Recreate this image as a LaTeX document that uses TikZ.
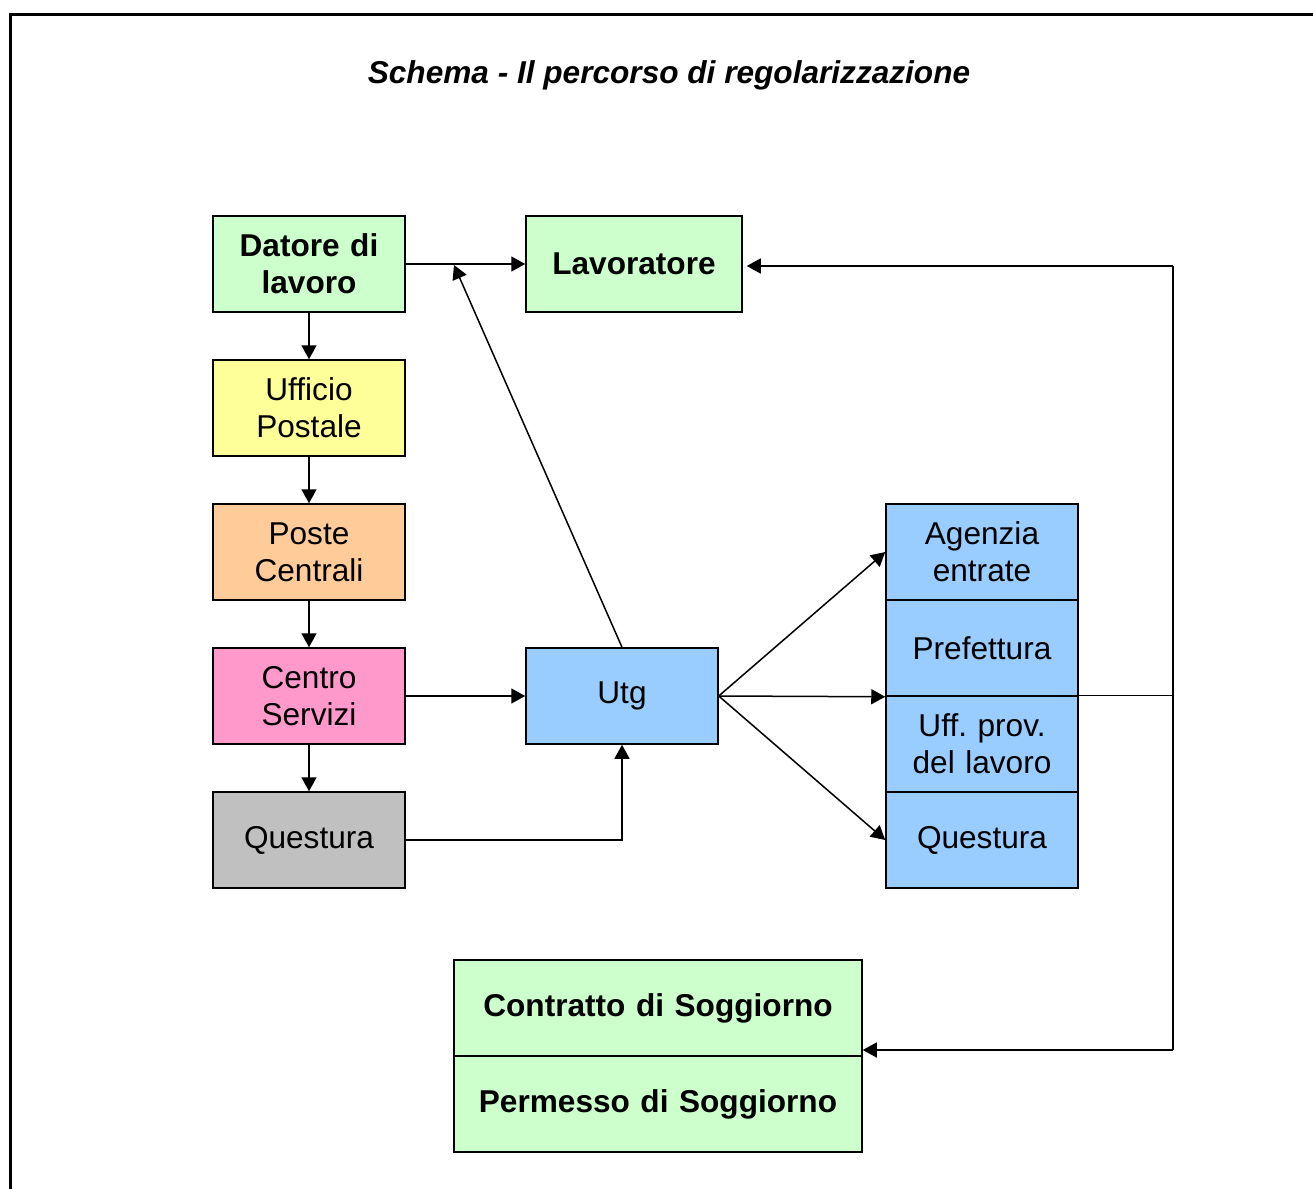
\documentclass[tikz,border=0pt]{standalone}
\usepackage{fontspec}
\setmainfont{Liberation Sans}
\usetikzlibrary{positioning, arrows.meta}

\begin{document}
\begin{tikzpicture}[->,>={Triangle[length=7pt,width=7.5pt]},line width=0.75pt,node distance=72pt,
  font=\fontsize{15.8}{18.5}\selectfont]
  \tikzstyle{box}=[draw=black,-,minimum width=96pt,minimum height=48pt,inner sep=0pt,align=center,text width=92pt]
  \definecolor{verde}{RGB}{204,255,204}
  \definecolor{giallo}{RGB}{255,255,153}
  \definecolor{arancio}{RGB}{255,204,153}
  \definecolor{rosa}{RGB}{255,153,204}
  \definecolor{grigio}{RGB}{192,192,192}
  \definecolor{azzurro}{RGB}{153,204,255}

  \useasboundingbox (0,0) rectangle (656.5pt,-594.5pt);
  \begin{scope}[-]
    \clip (0,0) rectangle (656.5pt,-594.5pt);
    \draw[line width=1.6pt] (5.25pt,-610pt) -- (5.25pt,-7.25pt) -- (670pt,-7.25pt);
  \end{scope}

  \node (T) at (334.5pt,-37.5pt) {\textbf{\textit{Schema - Il percorso di regolarizzazione}}};

  \node[box, fill=verde] (DL) at (154.5pt,-132pt) {\textbf{Datore di}\\\textbf{lavoro}};
  \node[box, fill=giallo] (UP) [below of=DL] {Ufficio\\Postale};
  \node[box, fill=arancio] (PC) [below of=UP] {Poste\\Centrali};
  \node[box, fill=rosa] (CS) [below of=PC] {Centro\\Servizi};
  \node[box, fill=grigio] (QU) [below of=CS] {Questura};
  \node[box, fill=verde, minimum width=108pt, text width=104pt] (LV) [right of=DL, node distance=162.5pt] {\textbf{Lavoratore}};
  \node[box, fill=azzurro] (UT) [right of=CS, node distance=156.5pt] {Utg};

  \node[box, fill=azzurro] (Q2) [right of=QU, node distance=336.5pt] {Questura};
  \node[box, fill=azzurro] (UL) [above of=Q2, node distance=48pt] {Uff.\ prov.\\del lavoro};
  \node[box, fill=azzurro] (PR) [above of=UL, node distance=48pt] {Prefettura};
  \node[box, fill=azzurro] (AE) [above of=PR, node distance=48pt] {Agenzia\\entrate};

  \node[box, fill=verde, minimum width=204pt, text width=200pt] (CO) at (329pt,-504pt) {\textbf{Contratto di Soggiorno}};
  \node[box, fill=verde, minimum width=204pt, text width=200pt] (PS) [below of=CO, node distance=48pt] {\textbf{Permesso di Soggiorno}};

  \coordinate (J) at (227pt,-132.5pt);
  \coordinate (B1) at (586.5pt,-133pt);
  \coordinate (B2) at (586.5pt,-525pt);

  \path (DL) edge (LV)
        (DL) edge (UP)
        (UP) edge (PC)
        (PC) edge (CS)
        (CS) edge (QU)
        (CS) edge (UT)
        (UT.north) edge (J)
        (UT.east) edge (AE.west)
        (UT.east) edge (PR.south west)
        (UT.east) edge (Q2.west);
  \draw (QU.east) -| (UT.south);
  \draw[-] (UL.north east) -- (UL.north east -| B1);
  \draw[-] (B1) -- (B2);
  \draw[shorten >=2pt] (B1) -- (B1 -| LV.east);
  \draw (B2) -- (B2 -| CO.east);
\end{tikzpicture}
\end{document}
